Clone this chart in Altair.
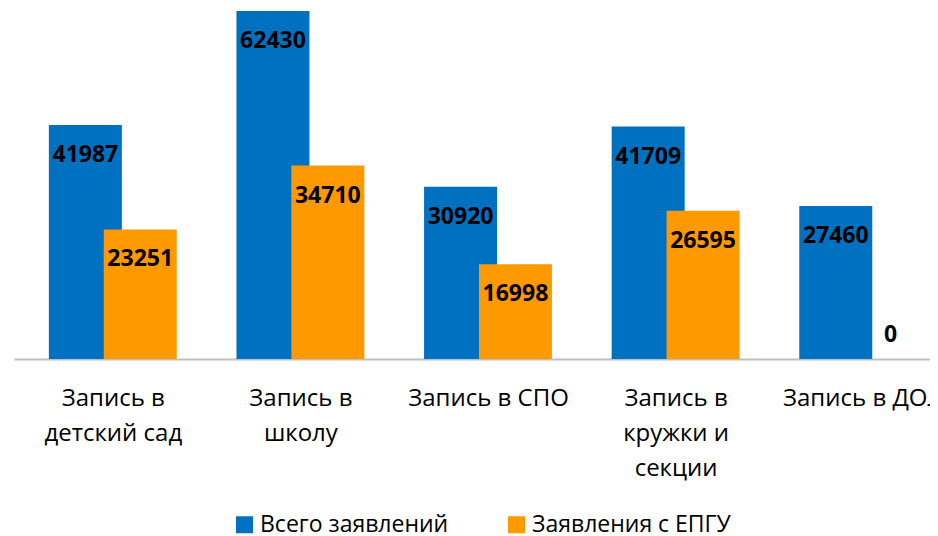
import json
import altair as alt
import pandas as pd

categories = ["Запись в\nдетский сад", "Запись в\nшколу", "Запись в СПО", "Запись в\nкружки и\nсекции", "Запись в ДОЛ"]
series = ["Всего заявлений", "Заявления с ЕПГУ"]
total = [41987, 62430, 30920, 41709, 27460]
epgu = [23251, 34710, 16998, 26595, 0]
colors = ["#0070C0", "#FF9900"]

rows = []
for i, c in enumerate(categories):
    rows.append({"idx": i, "series": series[0], "value": total[i], "side": -1})
    rows.append({"idx": i, "series": series[1], "value": epgu[i], "side": 1})
df = pd.DataFrame(rows)

label_list = json.dumps([c.replace("\n", "|") for c in categories], ensure_ascii=False)
label_expr = f"split({label_list}[datum.value], '|')"

x = alt.X(
    "pos:Q",
    scale=alt.Scale(domain=[-0.5, 4.5], range=[-6, 942], nice=False, zero=False),
    axis=alt.Axis(
        values=[0, 1, 2, 3, 4],
        labelExpr=label_expr,
        title=None,
        ticks=False,
        grid=False,
        domainColor="#BFBFBF",
        domainWidth=2,
        labelFont="Open Sans",
        labelFontSize=24,
        labelColor="#000000",
        labelLineHeight=35,
        labelPadding=27,
        labelOverlap=False,
        labelFlush=False,
        labelBound=False,
        labelLimit=0,
    ),
)
y = alt.Y("value:Q", scale=alt.Scale(domain=[0, 62430], nice=False), axis=None, stack=None)

base = alt.Chart(df).transform_calculate(pos="datum.idx + datum.side * 0.1463")

bars = base.mark_bar(size=73, orient="vertical").encode(
    x=x,
    y=y,
    color=alt.Color(
        "series:N",
        scale=alt.Scale(domain=series, range=colors),
        sort=series,
        legend=alt.Legend(
            title=None,
            orient="none",
            legendX=213,
            legendY=502,
            direction="horizontal",
            symbolType="square",
            symbolSize=289,
            symbolStrokeWidth=0,
            labelFont="Open Sans",
            labelFontSize=23,
            labelColor="#000000",
            labelOffset=4,
            labelLimit=0,
            columnPadding=56,
        ),
    ),
)

labels = base.transform_filter("datum.value > 0").mark_text(
    font="Open Sans", fontWeight="bold", fontSize=23, color="#000000", baseline="middle", dy=30
).encode(x=x, y=y, text="value:Q")

zero_labels = base.transform_filter("datum.value == 0").mark_text(
    font="Open Sans", fontWeight="bold", fontSize=23, color="#000000", baseline="middle", dy=-24
).encode(x=x, y=y, text="value:Q")

chart = (
    alt.layer(bars, labels, zero_labels)
    .properties(
        width=910,
        height=348,
        autosize=alt.AutoSizeParams(type="none"),
        padding={"left": 12, "top": 3, "right": 0, "bottom": 177},
    )
    .configure_view(stroke=None)
)

chart.save("out.html", embed_options={"renderer": "svg", "actions": False})
